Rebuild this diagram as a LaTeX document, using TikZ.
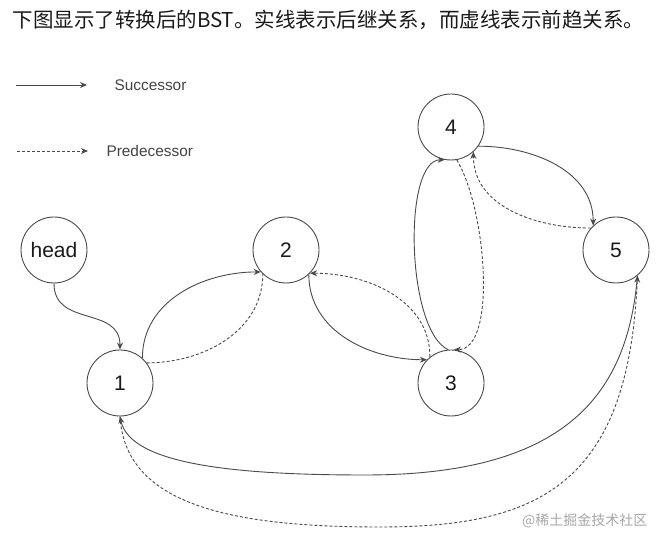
\documentclass[tikz,border=0pt]{standalone}
\usepackage{fontspec}
\setmainfont{Liberation Sans}
\newfontfamily\cjkfont{Noto Sans CJK SC}
\usetikzlibrary{positioning, arrows.meta}
\definecolor{bstLineC}{HTML}{4A4A4A}
\definecolor{bstTextC}{HTML}{1A1A1A}
\definecolor{bstLegendC}{HTML}{444444}
\definecolor{bstMarkC}{HTML}{A8A8A8}
\tikzset{
  bstNode/.style={circle, draw=bstLineC, line width=0.9pt,
                  minimum size=66pt, inner sep=0pt,
                  font=\fontsize{21}{24}\selectfont, text=bstTextC},
  bstSucc/.style={-{Stealth[length=7pt, width=6pt]}, line width=0.9pt, draw=bstLineC},
  bstPred/.style={bstSucc, dash pattern=on 3pt off 2pt},
  bstPlain/.style={line width=0.9pt, draw=bstLineC, dash pattern=on 3pt off 2pt},
  bstLegend/.style={font=\fontsize{15.4}{18}\selectfont, text=bstLegendC, anchor=west},
  bstTitle/.style={font=\cjkfont\fontsize{20.5}{24}\selectfont, text=bstTextC, anchor=west},
}

\begin{document}
\begin{tikzpicture}[x=1pt, y=1pt]
  \fill[white] (0,0) rectangle (665,543);
  \useasboundingbox (0,0) rectangle (665,543);

  % --- caption line on top ---
  \node[bstTitle] (title) at (9,523) {下图显示了转换后的BST。实线表示后继关系，而虚线表示前趋关系。};

  % --- legend ---
  \coordinate (sA) at (16,458);
  \coordinate (sB) at (87,458);
  \node[bstLegend, right=24pt of sB] (sL) {Successor};
  \draw[bstSucc] (sA) -- (sB);

  \coordinate (pA) at (17,392);
  \coordinate (pB) at (88,392);
  \node[bstLegend, right=15pt of pB] (pL) {Predecessor};
  \draw[bstPred] (pA) -- (pB);

  % --- list nodes ---
  \node[bstNode] (head) at (54,293)  {head};
  \node[bstNode] (n1)   at (120,160) {1};
  \node[bstNode] (n2)   at (286,293) {2};
  \node[bstNode] (n3)   at (451,160) {3};
  \node[bstNode] (n4)   at (451,416) {4};
  \node[bstNode] (n5)   at (616,293) {5};

  \draw[bstSucc] (head.south) to[out=-90, in=90, looseness=1.2] (n1.north);

  % successor links (solid)
  \draw[bstSucc] (n1.48) to[out=90, in=180] (n2.221);
  \draw[bstSucc] (n2.313) to[out=-90, in=180] (n3.136);
  \draw[bstSucc] (n3.95) .. controls +(-42,20) and +(-42,0) .. (n4.259);
  \draw[bstSucc] (n4.-35) to[out=0, in=90] (n5.133);
  \coordinate (lowS) at (365,68);
  \draw[bstSucc] (n5.-50) .. controls +(-10,-120) and +(200,0) .. (lowS)
                          .. controls +(-130,0) and +(10,-48) .. (n1.south);

  % predecessor links (dashed)
  \draw[bstPlain] (n1.37) to[out=0, in=-90] (n2.226);
  \draw[bstPred] (n3.129) to[out=90, in=0] (n2.316);
  \draw[bstPred] (n4.280) .. controls +(30,-50) and +(43,0) .. (n3.85);
  \draw[bstPred] (n5.139) to[out=180, in=-90] (n4.-48);
  \coordinate (lowP) at (380,16);
  \draw[bstPred] (n1.south) .. controls +(5,-88) and +(-150,0) .. (lowP)
                            .. controls +(160,0) and +(-9,-208) .. (n5.-50);

  % --- site mark ---
  \node[font=\cjkfont\fontsize{14}{16}\selectfont, text=bstMarkC, anchor=east] (mark) at (651,22) {@稀土掘金技术社区};
\end{tikzpicture}
\end{document}
